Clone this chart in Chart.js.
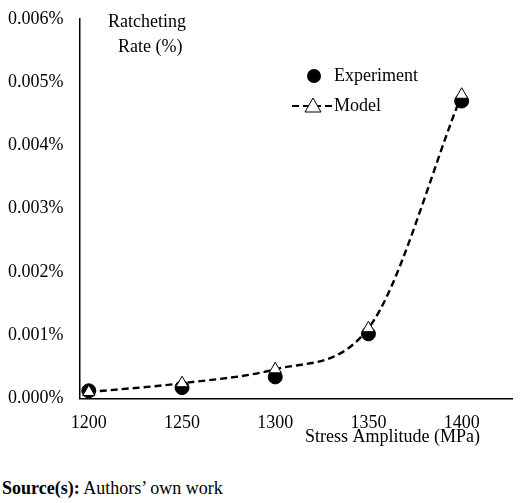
<!DOCTYPE html>
<html><head><meta charset="utf-8">
<script src="https://cdn.jsdelivr.net/npm/chart.js@4/dist/chart.umd.min.js"></script>
<style>
body{margin:0;background:#fff;font-family:"Liberation Serif",serif;}
#wrap{position:relative;width:520px;height:470px;}
#src{position:absolute;left:2px;top:478px;font-size:18px;color:#000;}
</style></head><body>
<div id="wrap"><canvas id="c"></canvas></div>
<div id="src"><b>Source(s):</b> Authors’ own work</div>
<script>
// values in percent
const stress = [1200, 1250, 1300, 1350, 1400];
const experiment = [0.00012, 0.00017, 0.00034, 0.00102, 0.00470];
const model = [0.00010, 0.00024, 0.00046, 0.00111, 0.00480];
const yTicks = [0, 0.001, 0.002, 0.003, 0.004, 0.005, 0.006];

const font = { family: '"Liberation Serif", serif', size: 18 };

const overlay = {
  id: 'overlay',
  afterDraw(chart) {
    const ctx = chart.ctx;
    ctx.save();
    ctx.fillStyle = '#000';
    ctx.font = '18px "Liberation Serif", serif';
    ctx.textBaseline = 'middle';
    ctx.fillText('Ratcheting', 108, 22);
    ctx.fillText('Rate (%)', 118, 47);
    ctx.fillText('Stress Amplitude (MPa)', 305, 437);
    // legend
    ctx.beginPath(); ctx.arc(314, 76, 7, 0, Math.PI * 2); ctx.fill();
    ctx.fillText('Experiment', 334, 76);
    ctx.setLineDash([7, 4]); ctx.lineWidth = 2.2;
    ctx.beginPath(); ctx.moveTo(292, 106); ctx.lineTo(332, 106); ctx.stroke();
    ctx.setLineDash([]); ctx.lineWidth = 1; ctx.fillStyle = '#fff';
    ctx.beginPath(); ctx.moveTo(313, 98); ctx.lineTo(321, 112); ctx.lineTo(305, 112); ctx.closePath(); ctx.fill(); ctx.stroke();
    ctx.fillStyle = '#000';
    ctx.fillText('Model', 334, 106);
    ctx.restore();
  }
};

new Chart(document.getElementById('c'), {
  type: 'scatter',
  data: {
    datasets: [{
      data: stress.map((x, i) => ({ x, y: model[i] })),
      showLine: true,
      cubicInterpolationMode: 'monotone',
      borderColor: '#000', borderWidth: 2.4, borderDash: [7, 4],
      pointStyle: 'triangle', pointRadius: 7, pointBackgroundColor: '#fff',
      pointBorderColor: '#000', pointBorderWidth: 1, clip: false
    }, {
      data: stress.map((x, i) => ({ x, y: experiment[i] })),
      pointStyle: 'circle', pointRadius: 7, pointBackgroundColor: '#000', pointBorderColor: '#000', clip: false
    }]
  },
  options: {
    responsive: true, maintainAspectRatio: false, animation: false,
    layout: { padding: { left: 0, right: 8, top: 2, bottom: 30 } },
    plugins: { legend: { display: false }, tooltip: { enabled: false } },
    scales: {
      x: {
        type: 'linear', min: 1195, max: 1427,
        afterBuildTicks: a => { a.ticks = stress.map(v => ({ value: v })); },
        grid: { display: false },
        border: { color: '#000', width: 1.5 },
        ticks: { color: '#000', font, padding: 6, callback: v => String(v) }
      },
      y: {
        min: 0, max: 0.006,
        afterBuildTicks: a => { a.ticks = yTicks.map(v => ({ value: v })); },
        grid: { display: false },
        border: { color: '#000', width: 1.5 },
        ticks: { color: '#000', font, padding: 8, callback: v => v.toFixed(3) + '%' }
      }
    }
  },
  plugins: [overlay]
});
</script>
</body></html>
